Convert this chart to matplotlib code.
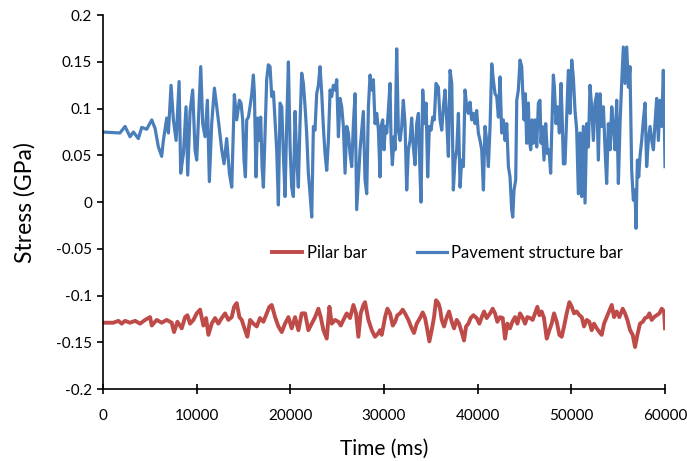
import numpy as np
import matplotlib.pyplot as plt

# pavement structure bar (blue)
t_pave = [0, 1800, 2350, 2880, 3240, 3770, 4130, 4660, 5200, 5550, 5910, 6260, 6440, 6800, 6980,
          7260, 7510, 7800, 8120, 8290, 8580, 8860, 9040, 9290, 9570, 9820, 10000, 10180, 10430,
          10640, 10890, 11140, 11350, 11600, 11890, 12140, 12390, 12670, 12920, 13200, 13490,
          13740, 13920, 14020, 14270, 14560,
          14730, 14910, 15050, 15200, 15340, 15520, 15690, 15870, 16050, 16160, 16330, 16510,
          16690, 16830, 16980, 17120, 17300, 17470, 17650, 17830, 18010, 18190, 18360, 18540,
          18720, 18900, 19080, 19250, 19430, 19610, 19790, 19970, 20140, 20320, 20500, 20680,
          20850, 21030, 21210, 21390, 21570, 21740, 21920, 22100, 22280, 22460, 22630, 22810,
          22990, 23170, 23350, 23520, 23700, 23880, 24060, 24240, 24410, 24590, 24770, 24950,
          25130, 25300, 25480, 25660, 25840, 26020, 26190, 26370, 26550, 26730, 26910, 27080,
          27260, 27440, 27620, 27790, 27970, 28150, 28330, 28510, 28680, 28860, 29040, 29220,
          29400,
          29570, 29680, 29860, 30000, 30140, 30290, 30460, 30640, 30750, 30890, 31070, 31180,
          31350, 31530, 31710, 31890, 32060, 32240, 32420, 32600, 32780, 32950, 33130, 33310,
          33490, 33670, 33840, 33950, 34130, 34310, 34490, 34660, 34840, 35020, 35200, 35370,
          35550, 35800, 35980, 36160, 36340, 36510, 36690, 36870, 37050, 37230, 37400, 37580,
          37760, 37940, 38120, 38290, 38470, 38650, 38830, 39000, 39180, 39360, 39540, 39720,
          39890, 40070, 40250, 40430, 40610, 40780, 40960, 41140, 41320, 41500, 41670, 41850,
          42030, 42210, 42390, 42560, 42740, 42920, 43100, 43280, 43450, 43630, 43740, 43880,
          44060, 44170, 44340,
          44520, 44700, 44800, 44950, 45090, 45230, 45410, 45520, 45660, 45800, 45940, 46120,
          46300, 46480, 46650, 46760, 46900, 47080, 47260, 47440, 47620, 47790, 47900, 48080,
          48190, 48360, 48540, 48720, 48900, 49040, 49150, 49320, 49500, 49680, 49860, 50040,
          50210, 50390, 50570, 50750, 50930, 51100, 51280, 51460, 51640, 51820, 51990, 52170,
          52350, 52530, 52710, 52880, 53060, 53240, 53420, 53600, 53770, 53950, 54130, 54310,
          54480, 54660, 54840, 55020, 55200, 55370, 55550, 55730, 55910, 56090, 56260, 56440,
          56620, 56800, 56900, 57050, 57190, 57330, 57510, 57690, 57870, 58040, 58220, 58400,
          58580, 58760, 58930, 59110, 59290, 59470, 59650, 59820, 59920, 60000]
s_pave = [0.075, 0.074, 0.081, 0.070, 0.075, 0.068, 0.080, 0.078, 0.088, 0.079, 0.059, 0.049, 0.066, 0.090, 0.074,
          0.125, 0.088, 0.066, 0.129, 0.031, 0.052, 0.102, 0.029, 0.097, 0.120, 0.056, 0.045, 0.088, 0.145,
          0.084, 0.070, 0.109, 0.022, 0.084, 0.122, 0.102, 0.081, 0.056, 0.041, 0.068, 0.031,
          0.016, 0.081, 0.115, 0.088, 0.109,
          0.106, 0.088, 0.045, 0.027, 0.088, 0.091, 0.102, 0.115, 0.136, 0.116, 0.027, 0.090,
          0.066, 0.091, 0.038, 0.016, 0.077, 0.131, 0.147, 0.145, 0.113, 0.118, 0.088, 0.056,
          -0.003, 0.106, 0.102, 0.052, 0.006, 0.084, 0.150, 0.059, 0.016, 0.006, 0.097, 0.045,
          0.016, 0.084, 0.138, 0.127, 0.102, 0.074, 0.031, 0.009, -0.016, 0.081, 0.077, 0.116,
          0.125, 0.145, 0.116, 0.081, 0.052, 0.034, 0.066, 0.120, 0.113, 0.125, 0.120, 0.131,
          0.070, 0.111, 0.102, 0.081, 0.031, 0.081, 0.074, 0.052, 0.038, 0.084, 0.116, -0.008,
          0.024, 0.056, 0.077, 0.097, 0.024, 0.009, 0.102, 0.136, 0.120, 0.131, 0.084, 0.095,
          0.077,
          0.027, 0.081, 0.088, 0.056, 0.081, 0.074, 0.098, 0.127, 0.066, 0.040, 0.070, 0.056,
          0.164, 0.077, 0.066, 0.081, 0.109, 0.084, 0.013, 0.056, 0.066, 0.090, 0.059, 0.040,
          0.084, 0.095, 0.031, 0.000, 0.120, 0.084, 0.106, 0.027, 0.081, 0.077, 0.091, 0.088,
          0.127, 0.123, 0.088, 0.077, 0.102, 0.120, 0.088, 0.049, 0.141, 0.127, 0.013, 0.045,
          0.056, 0.095, 0.016, 0.045, 0.038, 0.120, 0.102, 0.095, 0.107, 0.088, 0.095, 0.084,
          0.098, 0.074, 0.066, 0.056, 0.013, 0.081, 0.066, 0.038, 0.081, 0.148, 0.131, 0.116,
          0.113, 0.091, 0.134, 0.074, 0.088, 0.066, 0.084, 0.038, 0.027, -0.008, -0.016, 0.013,
          0.024, 0.109, 0.120,
          0.152, 0.145, 0.120, 0.088, 0.116, 0.063, 0.106, 0.066, 0.056, 0.088, 0.063, 0.088,
          0.059, 0.106, 0.109, 0.063, 0.081, 0.045, 0.084, 0.052, 0.056, 0.031, 0.074, 0.136,
          0.123, 0.084, 0.102, 0.074, 0.127, 0.084, 0.041, 0.041, 0.091, 0.141, 0.095, 0.152,
          0.134, 0.098, 0.077, 0.009, 0.074, 0.006, 0.081, -0.001, 0.084, 0.059, 0.125, 0.102,
          0.066, 0.106, 0.116, 0.045, 0.116, 0.081, 0.102, 0.056, 0.020, 0.084, 0.056, 0.102,
          0.081, 0.056, 0.109, 0.020, 0.084, 0.127, 0.166, 0.127, 0.166, 0.123, 0.145, 0.034,
          0.002, 0.013, -0.028, 0.045, 0.027, 0.049, 0.066, 0.088, 0.106, 0.038, 0.066, 0.081,
          0.066, 0.056, 0.084, 0.111, 0.066, 0.109, 0.081, 0.141, 0.091, 0.038]

# pilar bar (red)
t_pilar = [0, 1100, 1640, 1990, 2350, 2880, 3420, 3950, 4490, 5020, 5200, 5730, 6260, 6800, 7330,
           7580, 7940, 8400, 8760, 9010, 9290, 9650, 10000, 10360, 10710, 11000, 11250, 11600,
           11960, 12310, 12670, 13030, 13380, 13740, 13990, 14270, 14560, 14810, 15160, 15410,
           15700, 16050, 16410, 16760, 17120, 17480, 17760, 18010, 18370, 18720, 19080, 19430,
           19790, 20140, 20500, 20860, 21210, 21570, 21920, 22280, 22640, 22990, 23240, 23530,
           23880, 24170, 24420, 24770, 25130, 25380, 25660, 26020, 26370, 26730, 27010, 27260,
           27510, 27800, 27970, 28330, 28690, 29040, 29400,
           29570, 29750, 29930, 30110, 30360, 30640, 30930, 31180, 31420, 31710, 31990, 32240,
           32600, 32950, 33200, 33490, 33840, 34130, 34380, 34630, 34840, 35090, 35340, 35550,
           35800, 35980, 36160, 36410, 36690, 36940, 37230, 37470, 37760, 38010, 38290, 38540,
           38760, 39010, 39250, 39540, 39890, 40180, 40430, 40680, 40960, 41320, 41600, 41850,
           42100, 42390, 42670, 42920, 43170, 43450, 43700, 43990, 44240, 44520, 44810, 45060,
           45300, 45590, 45870, 46120, 46370, 46590, 46830, 47080, 47370, 47650, 47900, 48150,
           48440, 48720, 48970, 49220, 49500, 49790, 50040, 50290, 50570, 50860, 51110, 51350,
           51640, 51920, 52170, 52420, 52710, 52990, 53240, 53490, 53780, 54060, 54310, 54560,
           54840, 55130, 55480, 55730, 55980, 56270, 56550, 56800, 57050, 57330, 57620, 57870,
           58120, 58330, 58580, 58830, 59110, 59400, 59650, 59900, 60000]
s_pilar = [-0.129, -0.129, -0.127, -0.130, -0.127, -0.129, -0.127, -0.130, -0.126, -0.123, -0.132, -0.126, -0.129, -0.126, -0.129,
           -0.139, -0.128, -0.135, -0.123, -0.121, -0.130, -0.126, -0.119, -0.115, -0.132, -0.124, -0.142, -0.130,
           -0.124, -0.130, -0.124, -0.119, -0.126, -0.123, -0.112, -0.108, -0.123, -0.126, -0.137, -0.144,
           -0.126, -0.130, -0.133, -0.124, -0.128, -0.119, -0.112, -0.110, -0.123, -0.133, -0.139, -0.130,
           -0.123, -0.135, -0.123, -0.137, -0.119, -0.119, -0.137, -0.130, -0.123, -0.114, -0.123, -0.137,
           -0.146, -0.112, -0.130, -0.126, -0.128, -0.132, -0.126, -0.119, -0.124, -0.110, -0.119, -0.144,
           -0.119, -0.110, -0.107, -0.126, -0.137, -0.144, -0.140,
           -0.137, -0.142, -0.133, -0.123, -0.114, -0.119, -0.132, -0.128, -0.121, -0.119, -0.115, -0.119,
           -0.126, -0.135, -0.140, -0.130, -0.124, -0.118, -0.124, -0.137, -0.149, -0.137, -0.123, -0.105,
           -0.108, -0.114, -0.126, -0.133, -0.123, -0.117, -0.128, -0.135, -0.126, -0.130, -0.139, -0.148,
           -0.133, -0.130, -0.124, -0.121, -0.124, -0.130, -0.123, -0.117, -0.124, -0.119, -0.114, -0.119,
           -0.128, -0.123, -0.124, -0.146, -0.130, -0.135, -0.128, -0.123, -0.130, -0.119, -0.124, -0.130,
           -0.123, -0.124, -0.126, -0.119, -0.112, -0.121, -0.117, -0.124, -0.146, -0.137, -0.130, -0.119,
           -0.128, -0.142, -0.144, -0.133, -0.119, -0.107, -0.112, -0.119, -0.117, -0.121, -0.123, -0.133,
           -0.126, -0.128, -0.137, -0.130, -0.135, -0.139, -0.142, -0.130, -0.123, -0.116, -0.110, -0.123,
           -0.117, -0.123, -0.114, -0.119, -0.126, -0.137, -0.142, -0.155, -0.142, -0.130, -0.128, -0.124,
           -0.123, -0.119, -0.126, -0.123, -0.121, -0.119, -0.114, -0.117, -0.135]

x_ticks = np.arange(0, 60001, 10000)
y_ticks = np.arange(-0.2, 0.2001, 0.05)

plt.rcParams['font.family'] = ['Lato', 'DejaVu Sans']

fig = plt.figure(figsize=(6.87, 4.61), dpi=100)
ax = fig.add_axes([0.150, 0.156, 0.818, 0.811])

ax.plot(t_pilar, s_pilar, color='#be4b48', lw=2.8, label='Pilar bar')
ax.plot(t_pave, s_pave, color='#4a7ebb', lw=2.3, label='Pavement structure bar')

ax.set_xlim(0, 60000)
ax.set_ylim(-0.2, 0.2)
ax.set_xticks(x_ticks)
ax.set_xticklabels([f'{int(v)}' for v in x_ticks])
ax.set_yticks(y_ticks)
ax.set_yticklabels([f'{v:g}' if abs(v) > 1e-9 else '0' for v in y_ticks])

for side in ('top', 'right'):
    ax.spines[side].set_visible(False)
for side in ('left', 'bottom'):
    ax.spines[side].set_linewidth(1.2)
ax.tick_params(axis='x', direction='inout', length=7, width=1.2, labelsize=11, pad=11)
ax.tick_params(axis='y', direction='out', length=4, width=1.2, labelsize=11, pad=4)

ax.set_xlabel('Time (ms)', fontsize=15, labelpad=11)
ax.set_ylabel('Stress (GPa)', fontsize=16.5, labelpad=15)

ax.legend(loc='center', bbox_to_anchor=(0.613, 0.364), ncol=2, frameon=False,
          fontsize=12, handlelength=1.8, columnspacing=3.0, handletextpad=0.25)

fig.savefig('out.png', dpi=100)
